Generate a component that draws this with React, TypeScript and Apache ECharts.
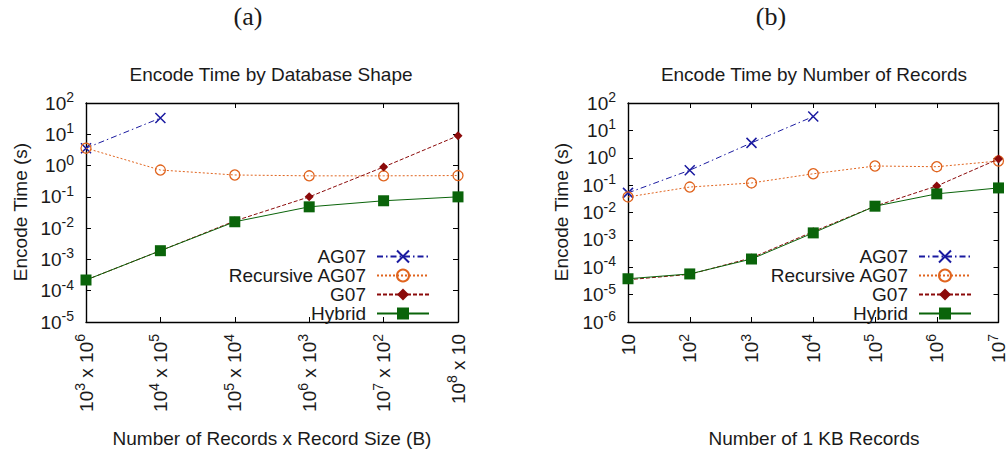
import React, { useEffect, useRef } from 'react';
import * as echarts from 'echarts';

// ---------- data ----------
const seriesNames = ['AG07', 'Recursive AG07', 'G07', 'Hybrid'];

// (a) Encode Time by Database Shape
const leftTickLabels = ['10^3 x 10^6', '10^4 x 10^5', '10^5 x 10^4', '10^6 x 10^3', '10^7 x 10^2', '10^8 x 10'];
const leftAG07 = [3.6, 33];
const leftRecursive = [3.6, 0.72, 0.5, 0.47, 0.47, 0.48];
const leftG07 = [2.2e-4, 1.9e-3, 0.017, 0.1, 0.9, 9];
const leftHybrid = [2.2e-4, 1.9e-3, 0.016, 0.048, 0.075, 0.1];

// (b) Encode Time by Number of Records
const rightRecords = [10, 100, 1000, 10000, 100000, 1000000, 10000000];
const rightAG07 = [0.052, 0.35, 3.5, 32];
const rightRecursive = [0.037, 0.085, 0.12, 0.26, 0.5, 0.47, 0.76];
const rightG07 = [3.5e-5, 5.5e-5, 2.2e-4, 2.0e-3, 0.017, 0.093, 0.9];
const rightHybrid = [3.8e-5, 5.7e-5, 2.0e-4, 1.8e-3, 0.017, 0.048, 0.079];

// ---------- style ----------
const FONT = '"Liberation Sans", Arial, sans-serif';
const SERIF = '"Liberation Serif", "Times New Roman", serif';
const TXT = '#1a1a1a';
const COLORS = ['#1a1aa0', '#e0641e', '#8b0a0a', '#0a640a'];

const rich: any = {
  b: { fontSize: 19, fontFamily: FONT, color: TXT, lineHeight: 26 },
  s: { fontSize: 14, fontFamily: FONT, color: TXT, lineHeight: 17, verticalAlign: 'top' },
};

const toRich = (s: string) =>
  s
    .split(/(\^-?\d+)/)
    .filter((t) => t.length > 0)
    .map((t) => (t.startsWith('^') ? `{s|${t.slice(1)}}` : `{b|${t}}`))
    .join('');

const expOf = (v: number) => Math.round(Math.log10(v));
const yLabel = (v: number) => toRich(`10^${expOf(v)}`);
const xLabel = (v: number) => (expOf(v) === 1 ? toRich('10') : toRich(`10^${expOf(v)}`));

const axisLine = { show: true, lineStyle: { color: '#000', width: 1.4 } };
const tickIn = { show: true, inside: true, length: 5, lineStyle: { color: '#000', width: 1 } };

const X_PATH = 'path://M0,0L10,10M10,0L0,10';

function makeSeries(xi: number, yi: number, data: any[][]) {
  const [ag, rec, g, hy] = data;
  return [
    {
      name: seriesNames[0], type: 'line', xAxisIndex: xi, yAxisIndex: yi, data: ag,
      symbol: X_PATH, symbolSize: 10,
      itemStyle: { color: 'none', borderColor: COLORS[0], borderWidth: 1.5 },
      lineStyle: { color: COLORS[0], width: 1, type: [6, 3, 1.5, 3] },
      z: 2,
    },
    {
      name: seriesNames[1], type: 'line', xAxisIndex: xi, yAxisIndex: yi, data: rec,
      symbol: 'circle', symbolSize: 10,
      itemStyle: { color: 'none', borderColor: COLORS[1], borderWidth: 1.3 },
      lineStyle: { color: COLORS[1], width: 1, type: [2, 2] },
      z: 3,
    },
    {
      name: seriesNames[2], type: 'line', xAxisIndex: xi, yAxisIndex: yi, data: g,
      symbol: 'diamond', symbolSize: 9,
      itemStyle: { color: COLORS[2] },
      lineStyle: { color: COLORS[2], width: 1, type: [4, 2] },
      z: 4,
    },
    {
      name: seriesNames[3], type: 'line', xAxisIndex: xi, yAxisIndex: yi, data: hy,
      symbol: 'rect', symbolSize: 11,
      itemStyle: { color: COLORS[3] },
      lineStyle: { color: COLORS[3], width: 1 },
      z: 5,
    },
  ];
}

function legendAt(right: number) {
  return {
    data: seriesNames,
    orient: 'vertical',
    align: 'right',
    right,
    top: 242,
    itemWidth: 52,
    itemHeight: 15,
    itemGap: 0,
    selectedMode: false,
    textStyle: { fontSize: 19, fontFamily: FONT, color: TXT, lineHeight: 19, padding: [0, 6, 0, 0] },
  };
}

const yLog = (grid: number, min: number, pos: 'left' | 'right', labels: boolean) => ({
  type: 'log', logBase: 10, gridIndex: grid, min, max: 100, interval: 1, position: pos,
  axisLine, axisTick: tickIn, splitLine: { show: false },
  axisLabel: labels ? { show: true, margin: 12, formatter: yLabel, rich } : { show: false },
});

export default function App() {
  const ref = useRef<HTMLDivElement>(null);
  useEffect(() => {
    if (!ref.current) return;
    const chart = echarts.init(ref.current, undefined, { renderer: 'svg' });
    const rightPairs = (ys: number[]) => ys.map((y, i) => [rightRecords[i], y]);

    const option: any = {
      animation: false,
      backgroundColor: '#fff',
      textStyle: { fontFamily: FONT },
      grid: [
        { left: 86, top: 103, width: 372, height: 219 },
        { left: 628, top: 103, width: 372, height: 219 },
      ],
      xAxis: [
        {
          type: 'category', gridIndex: 0, data: leftTickLabels, boundaryGap: false, position: 'bottom',
          axisLine, axisTick: { ...tickIn, alignWithLabel: true }, splitLine: { show: false },
          axisLabel: { rotate: 90, margin: 12, interval: 0, formatter: (v: string) => toRich(v), rich },
        },
        {
          type: 'category', gridIndex: 0, data: leftTickLabels, boundaryGap: false, position: 'top',
          axisLine, axisTick: tickIn, axisLabel: { show: false }, splitLine: { show: false },
        },
        {
          type: 'log', logBase: 10, gridIndex: 1, min: 10, max: 1e7, interval: 1, position: 'bottom',
          axisLine, axisTick: tickIn, splitLine: { show: false },
          axisLabel: { rotate: 90, margin: 12, formatter: xLabel, rich },
        },
        {
          type: 'log', logBase: 10, gridIndex: 1, min: 10, max: 1e7, interval: 1, position: 'top',
          axisLine, axisTick: tickIn, axisLabel: { show: false }, splitLine: { show: false },
        },
      ],
      yAxis: [
        yLog(0, 1e-5, 'left', true),
        yLog(0, 1e-5, 'right', false),
        yLog(1, 1e-6, 'left', true),
        yLog(1, 1e-6, 'right', false),
      ],
      legend: [legendAt(573), legendAt(31)],
      series: [
        ...makeSeries(0, 0, [leftAG07, leftRecursive, leftG07, leftHybrid]),
        ...makeSeries(2, 2, [
          rightPairs(rightAG07), rightPairs(rightRecursive), rightPairs(rightG07), rightPairs(rightHybrid),
        ]),
      ],
      graphic: [
        { type: 'text', x: 248, y: 16, style: { text: '(a)', font: `26px ${SERIF}`, fill: TXT, textAlign: 'center', textVerticalAlign: 'middle' } },
        { type: 'text', x: 771, y: 16, style: { text: '(b)', font: `26px ${SERIF}`, fill: TXT, textAlign: 'center', textVerticalAlign: 'middle' } },
        { type: 'text', x: 271, y: 74, style: { text: 'Encode Time by Database Shape', font: `19px ${FONT}`, fill: TXT, textAlign: 'center', textVerticalAlign: 'middle' } },
        { type: 'text', x: 814, y: 74, style: { text: 'Encode Time by Number of Records', font: `19px ${FONT}`, fill: TXT, textAlign: 'center', textVerticalAlign: 'middle' } },
        { type: 'text', x: 20, y: 212, rotation: Math.PI / 2, style: { text: 'Encode Time (s)', font: `19px ${FONT}`, fill: TXT, textAlign: 'center', textVerticalAlign: 'middle' } },
        { type: 'text', x: 561, y: 212, rotation: Math.PI / 2, style: { text: 'Encode Time (s)', font: `19px ${FONT}`, fill: TXT, textAlign: 'center', textVerticalAlign: 'middle' } },
        { type: 'text', x: 272, y: 438, style: { text: 'Number of Records x Record Size (B)', font: `19px ${FONT}`, fill: TXT, textAlign: 'center', textVerticalAlign: 'middle' } },
        { type: 'text', x: 814, y: 438, style: { text: 'Number of 1 KB Records', font: `19px ${FONT}`, fill: TXT, textAlign: 'center', textVerticalAlign: 'middle' } },
      ],
    };
    chart.setOption(option);
    return () => chart.dispose();
  }, []);
  return <div ref={ref} style={{ position: 'fixed', left: 0, top: 0, width: 1008, height: 453 }} />;
}
